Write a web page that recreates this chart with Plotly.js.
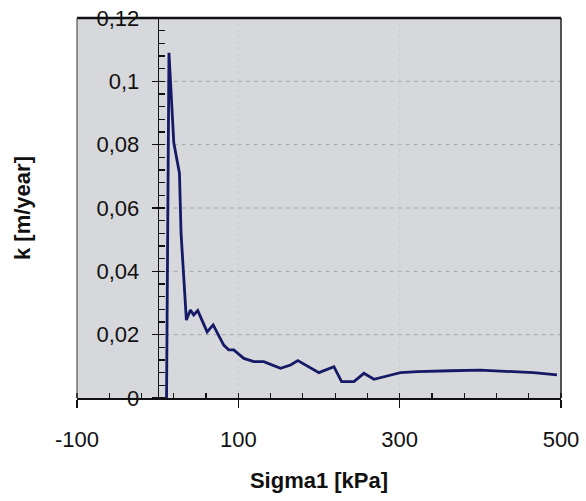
<!DOCTYPE html>
<html>
<head>
<meta charset="utf-8">
<script src="https://cdn.plot.ly/plotly-3.0.1.min.js"></script>
<style>
html,body{margin:0;padding:0;background:#fff;}
#chart{width:586px;height:501px;}
</style>
</head>
<body>
<div id="chart"></div>
<script>
// Data
const sigma = [11, 14, 20, 27, 29, 35.6, 40.6, 44.7, 49.7, 61.3, 68.8, 81.9, 88.1, 94.3, 106.8, 119.2, 131.6, 152.3, 164.7, 173.8, 199.9, 218.5, 228, 243.3, 255.7, 268.1, 293, 301, 322, 342, 363, 400, 433, 466, 495];
const k = [0, 0.109, 0.0806, 0.071, 0.052, 0.0246, 0.0278, 0.0262, 0.0276, 0.0209, 0.0231, 0.0167, 0.0152, 0.0152, 0.0125, 0.0115, 0.0115, 0.0094, 0.0104, 0.0118, 0.008, 0.0099, 0.0052, 0.0052, 0.0078, 0.0059, 0.0075, 0.008, 0.0083, 0.0085, 0.0086, 0.0088, 0.0083, 0.008, 0.0073];

const xRange = [-100, 500];
const yRange = [0, 0.12];
const xTickVals = [-100, 100, 300, 500];
const xTickText = ['-100', '100', '300', '500'];
const yGridVals = [0.02, 0.04, 0.06, 0.08, 0.1];
const xGridVals = [100, 300];

const font = 'Liberation Sans, Arial, sans-serif';

const shapes = [];
yGridVals.forEach(v => shapes.push({
  type: 'line', xref: 'x', yref: 'y', x0: 0, x1: xRange[1], y0: v, y1: v,
  line: {color: '#a4a4a6', width: 1, dash: '4px,4px'}, layer: 'below'
}));
xGridVals.forEach(v => shapes.push({
  type: 'line', xref: 'x', yref: 'y', x0: v, x1: v, y0: yRange[0], y1: yRange[1],
  line: {color: '#cbcbce', width: 1, dash: 'dot'}, layer: 'below'
}));
// plot frame
shapes.push({type: 'line', xref: 'paper', yref: 'paper', x0: 0, x1: 1, y0: 1, y1: 1, line: {color: '#111', width: 2.5}});
shapes.push({type: 'line', xref: 'paper', yref: 'paper', x0: 1, x1: 1, y0: 0, y1: 1, line: {color: '#222', width: 1.5}});
shapes.push({type: 'line', xref: 'paper', yref: 'paper', x0: 0, x1: 0, y0: 0, y1: 1, line: {color: '#555', width: 1.2}});

const yPos = (0 - xRange[0]) / (xRange[1] - xRange[0]);

const data = [{
  x: sigma, y: k, type: 'scatter', mode: 'lines',
  line: {color: '#151a66', width: 2.8},
  hoverinfo: 'skip'
}];

const layout = {
  width: 586, height: 501,
  margin: {l: 77, r: 25, t: 18, b: 103},
  paper_bgcolor: '#ffffff',
  plot_bgcolor: '#d7d8dc',
  separators: ', ',
  showlegend: false,
  font: {family: font, color: '#111', size: 22},
  xaxis: {
    range: xRange, tickmode: 'array', tickvals: xTickVals, ticktext: xTickText,
    showgrid: false, zeroline: false,
    showline: true, linecolor: '#111', linewidth: 2,
    ticks: 'outside', ticklen: 8, tickwidth: 1.5, tickcolor: '#111',
    ticklabelstandoff: 13,
    minor: {tick0: -100, dtick: 40, ticks: 'inside', ticklen: 5, tickwidth: 1.2, tickcolor: '#111', showgrid: false},
    tickfont: {family: font, size: 22, color: '#111'},
    title: {text: 'Sigma1 [kPa]', font: {family: font, size: 22, color: '#111', weight: 'bold'}, standoff: 21},
    automargin: false
  },
  yaxis: {
    range: yRange, dtick: 0.02, tick0: 0,
    anchor: 'free', position: yPos,
    showgrid: false, zeroline: false,
    showline: true, linecolor: '#111', linewidth: 1.5,
    ticks: 'outside', ticklen: 6, tickwidth: 1.5, tickcolor: '#111',
    ticklabelstandoff: 8,
    minor: {dtick: 0.004, ticks: 'inside', ticklen: 6, tickwidth: 1.2, tickcolor: '#111', showgrid: false},
    tickfont: {family: font, size: 22, color: '#111'},
    title: {text: 'k [m/year]', font: {family: font, size: 22, color: '#111', weight: 'bold'}, standoff: 58},
    automargin: false
  },
  shapes: shapes
};

Plotly.newPlot('chart', data, layout, {displayModeBar: false, staticPlot: true});
</script>
</body>
</html>
